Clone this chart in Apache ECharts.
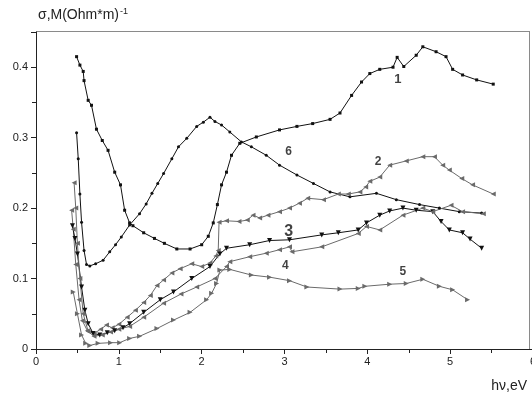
<!DOCTYPE html>
<html>
<head>
<meta charset="utf-8">
<script src="https://cdn.jsdelivr.net/npm/echarts@6/dist/echarts.min.js"></script>
<style>
  html, body { margin: 0; padding: 0; background: #fff; }
  #chart { width: 532px; height: 398px; }
</style>
</head>
<body>
<div id="chart"></div>
<script>
// curves, [photon energy eV, sigma]
const curve1 = [[0.49,0.415],[0.53,0.403],[0.57,0.394],[0.58,0.381],[0.63,0.353],[0.67,0.346],[0.73,0.312],[0.8,0.296],[0.87,0.282],[0.95,0.251],[1.02,0.233],[1.07,0.197],[1.13,0.179],[1.17,0.175],[1.3,0.165],[1.43,0.157],[1.55,0.15],[1.7,0.142],[1.86,0.142],[2.0,0.148],[2.08,0.16],[2.14,0.179],[2.19,0.205],[2.24,0.233],[2.3,0.251],[2.36,0.275],[2.46,0.292],[2.66,0.301],[2.94,0.311],[3.15,0.316],[3.34,0.32],[3.55,0.326],[3.67,0.335],[3.81,0.36],[3.93,0.379],[4.03,0.391],[4.15,0.397],[4.31,0.4],[4.36,0.414],[4.44,0.401],[4.59,0.417],[4.67,0.429],[4.83,0.422],[4.95,0.415],[5.03,0.397],[5.15,0.389],[5.32,0.382],[5.52,0.376]];
const curve2 = [[0.43,0.197],[0.45,0.17],[0.48,0.12],[0.52,0.07],[0.56,0.04],[0.62,0.026],[0.7,0.022],[0.78,0.028],[0.85,0.034],[0.92,0.03],[1.0,0.035],[1.1,0.045],[1.2,0.055],[1.3,0.066],[1.38,0.076],[1.46,0.09],[1.54,0.098],[1.64,0.108],[1.74,0.114],[1.88,0.121],[2.0,0.117],[2.1,0.122],[2.17,0.132],[2.2,0.14],[2.21,0.18],[2.3,0.182],[2.45,0.181],[2.55,0.183],[2.62,0.19],[2.7,0.186],[2.8,0.19],[2.94,0.195],[3.06,0.2],[3.18,0.207],[3.28,0.214],[3.47,0.212],[3.65,0.22],[3.77,0.22],[3.91,0.223],[3.98,0.23],[4.03,0.238],[4.15,0.244],[4.27,0.261],[4.47,0.267],[4.67,0.273],[4.81,0.273],[4.91,0.261],[4.99,0.254],[5.14,0.242],[5.27,0.233],[5.52,0.22]];
const curve3 = [[0.44,0.175],[0.47,0.157],[0.5,0.135],[0.55,0.088],[0.59,0.055],[0.63,0.036],[0.69,0.022],[0.77,0.02],[0.86,0.023],[0.95,0.026],[1.05,0.03],[1.13,0.036],[1.3,0.052],[1.5,0.07],[1.66,0.081],[1.88,0.1],[2.1,0.117],[2.22,0.135],[2.3,0.143],[2.58,0.148],[2.82,0.154],[3.06,0.155],[3.45,0.162],[3.65,0.165],[3.89,0.169],[3.99,0.179],[4.15,0.19],[4.27,0.196],[4.43,0.2],[4.59,0.197],[4.79,0.195],[4.89,0.181],[4.99,0.169],[5.15,0.165],[5.24,0.156],[5.38,0.143]];
const curve4 = [[0.46,0.236],[0.48,0.2],[0.5,0.15],[0.53,0.1],[0.57,0.05],[0.63,0.025],[0.7,0.018],[0.8,0.02],[0.9,0.024],[1.0,0.028],[1.13,0.032],[1.3,0.045],[1.54,0.065],[1.75,0.078],[1.94,0.088],[2.16,0.1],[2.3,0.117],[2.34,0.124],[2.58,0.131],[2.78,0.136],[2.94,0.141],[3.06,0.145],[3.09,0.138],[3.45,0.145],[3.89,0.164],[3.99,0.174],[4.15,0.169],[4.43,0.19],[4.67,0.2],[4.79,0.195],[5.01,0.204],[5.15,0.195],[5.4,0.192]];
const curve5 = [[0.45,0.081],[0.5,0.05],[0.55,0.02],[0.6,0.008],[0.65,0.005],[0.75,0.008],[0.9,0.009],[1.01,0.009],[1.13,0.015],[1.25,0.018],[1.46,0.029],[1.66,0.041],[1.86,0.052],[2.06,0.07],[2.12,0.079],[2.18,0.093],[2.22,0.112],[2.34,0.113],[2.6,0.105],[2.82,0.102],[3.06,0.097],[3.27,0.088],[3.67,0.085],[3.89,0.086],[3.97,0.089],[4.27,0.092],[4.47,0.093],[4.67,0.099],[4.87,0.089],[5.03,0.084],[5.21,0.07]];
const curve6 = [[0.49,0.307],[0.51,0.27],[0.53,0.22],[0.55,0.18],[0.58,0.14],[0.61,0.12],[0.65,0.118],[0.72,0.121],[0.81,0.126],[0.89,0.138],[0.96,0.148],[1.03,0.159],[1.13,0.176],[1.25,0.192],[1.33,0.206],[1.4,0.221],[1.47,0.235],[1.54,0.249],[1.64,0.27],[1.72,0.287],[1.82,0.299],[1.94,0.316],[2.02,0.322],[2.1,0.329],[2.16,0.323],[2.24,0.318],[2.34,0.308],[2.48,0.294],[2.6,0.287],[2.78,0.275],[2.94,0.261],[3.15,0.247],[3.35,0.235],[3.55,0.223],[3.79,0.216],[4.11,0.221],[4.35,0.212],[4.63,0.205],[4.87,0.2],[5.11,0.195],[5.38,0.193]];

// curve numbers written next to the curves
const curveLabels = [['1',4.37,0.383,13],['6',3.05,0.28,12],['2',4.13,0.266,12],['3',3.05,0.166,16],['4',3.01,0.118,12],['5',4.43,0.11,12]];

const xTicks = [0, 1, 2, 3, 4, 5, 6];
const yTicks = [0, 0.1, 0.2, 0.3, 0.4];

const FONT = 'Liberation Sans';
const BLACK = '#111';
const GRAY = '#6a6a6a';

const chart = echarts.init(document.getElementById('chart'));

const makeLine = (name, data, color, symbol, size, rotate) => ({
  name: name,
  type: 'line',
  data: data,
  symbol: symbol,
  symbolSize: size,
  symbolRotate: rotate,
  showAllSymbol: true,
  lineStyle: { color: color, width: 1 },
  itemStyle: { color: color },
  animation: false,
  z: 3,
})

const option = {
  animation: false,
  title: [
    {
      text: 'hν,eV',
      right: 0,
      bottom: 0,
      textStyle: { fontFamily: FONT, fontSize: 14, fontWeight: 'normal', color: '#222' },
    },
  ],
  grid: { left: 36, top: 32, width: 497, height: 317, outerBoundsMode: 'none', containLabel: false },
  xAxis: {
    type: 'value',
    min: xTicks[0],
    max: xTicks[xTicks.length - 1],
    interval: 1,
    axisLine: { lineStyle: { color: '#222', width: 1 } },
    axisTick: { show: true, inside: false, length: 5, lineStyle: { color: '#222' } },
    minorTick: { show: true, splitNumber: 2, length: 4, lineStyle: { color: '#222' } },
    splitLine: { show: false },
    axisLabel: { fontFamily: FONT, fontSize: 11, color: '#222', margin: 7 },
  },
  yAxis: {
    type: 'value',
    min: 0,
    max: 0.45,
    interval: 0.1,
    name: '{a|σ,M(Ohm*m)}{b|-1}',
    nameLocation: 'end',
    nameGap: 8,
    nameTextStyle: {
      align: 'left',
      padding: [0, 0, 0, 2],
      rich: {
        a: { fontFamily: FONT, fontSize: 14, color: '#222' },
        b: { fontFamily: FONT, fontSize: 9, color: '#222', padding: [0, 0, 8, 1] },
      },
    },
    axisLine: { show: true, lineStyle: { color: '#222', width: 1 } },
    axisTick: { show: true, inside: false, length: 5, lineStyle: { color: '#222' } },
    minorTick: { show: true, splitNumber: 2, length: 4, lineStyle: { color: '#222' } },
    splitLine: { show: false },
    axisLabel: {
      fontFamily: FONT,
      fontSize: 11,
      color: '#222',
      margin: 8,
      showMaxLabel: false,
      formatter: (v) => (yTicks.some((t) => Math.abs(t - v) < 1e-9) ? (v === 0 ? '0' : v.toFixed(1)) : ''),
    },
  },
  series: [
    makeLine('1', curve1, BLACK, 'rect', 3, 0),
    makeLine('6', curve6, BLACK, 'circle', 3, 0),
    makeLine('2', curve2, GRAY, 'triangle', 5, 90),
    makeLine('3', curve3, BLACK, 'triangle', 5, 180),
    makeLine('4', curve4, GRAY, 'triangle', 5, 90),
    makeLine('5', curve5, GRAY, 'triangle', 5, -90),
    {
      type: 'scatter',
      symbolSize: 0,
      silent: true,
      animation: false,
      data: curveLabels.map((l) => ({ value: [l[1], l[2]], name: l[0], size: l[3] })),
      label: {
        show: true,
        position: 'inside',
        fontFamily: FONT,
        fontWeight: 'bold',
        color: BLACK,
        formatter: (p) => p.name,
      },
      z: 4,
    },
  ],
  graphic: [
    { type: 'line', shape: { x1: 36, y1: 31.5, x2: 530, y2: 31.5 }, style: { stroke: '#8a8a8a', lineWidth: 1 } },
    { type: 'line', shape: { x1: 529.5, y1: 31.5, x2: 529.5, y2: 349 }, style: { stroke: '#8a8a8a', lineWidth: 1 } },
  ],
}

// per-label font sizes
option.series[6].data.forEach((d) => {
  d.label = { fontSize: d.size, fontWeight: 'bold', color: BLACK }
})

chart.setOption(option)
</script>
</body>
</html>
